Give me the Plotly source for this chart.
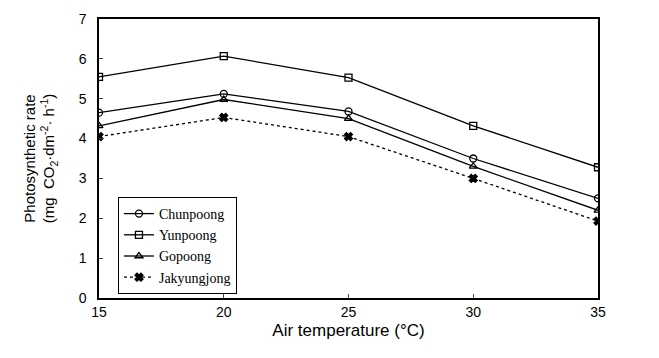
import plotly.graph_objects as go

temps = [15, 20, 25, 30, 35]
chunpoong = [4.65, 5.12, 4.68, 3.5, 2.5]
yunpoong = [5.55, 6.07, 5.53, 4.32, 3.28]
gopoong = [4.32, 4.98, 4.5, 3.3, 2.2]
jakyungjong = [4.05, 4.53, 4.05, 3.0, 1.93]

series = [
    ("Chunpoong", chunpoong, "circle-open", "solid"),
    ("Yunpoong", yunpoong, "square-open", "solid"),
    ("Gopoong", gopoong, "triangle-up-open", "solid"),
    ("Jakyungjong", jakyungjong, "x", "dot"),
]

fig = go.Figure()
for name, vals, sym, dash in series:
    fig.add_trace(go.Scatter(
        x=temps, y=vals, name=name, mode="lines+markers",
        line=dict(color="black", width=1.3, dash=dash),
        marker=dict(symbol=sym, size=7, color="black",
                    line=dict(color="black", width=1.3)),
    ))

fig.update_layout(
    width=659, height=358,
    margin=dict(l=99, r=61, t=11, b=60),
    paper_bgcolor="white", plot_bgcolor="white",
    font=dict(family="Liberation Sans, Arial", size=14, color="black"),
    legend=dict(
        x=0.038, y=0.362, xanchor="left", yanchor="top",
        bgcolor="white", bordercolor="black", borderwidth=1,
        font=dict(family="Liberation Serif, Times New Roman", size=14),
        tracegroupgap=0, itemwidth=30,
    ),
)
fig.update_xaxes(
    range=[15, 35], tickvals=temps, ticks="inside", ticklen=4,
    showline=True, linecolor="black", linewidth=1.5, mirror=True,
    showgrid=False, zeroline=False,
    title=dict(text="Air temperature (°C)", standoff=6),
)
fig.update_yaxes(
    range=[0, 7], dtick=1, ticks="inside", ticklen=4, ticklabelstandoff=8,
    showline=True, linecolor="black", linewidth=1.5, mirror=True,
    showgrid=False, zeroline=False,
    title=dict(text="Photosynthetic rate<br>(mg  CO<sub>2</sub>·dm<sup>-2</sup>· h<sup>-1</sup>)",
               standoff=20, font=dict(size=15)),
)

fig.write_html("out.html")
